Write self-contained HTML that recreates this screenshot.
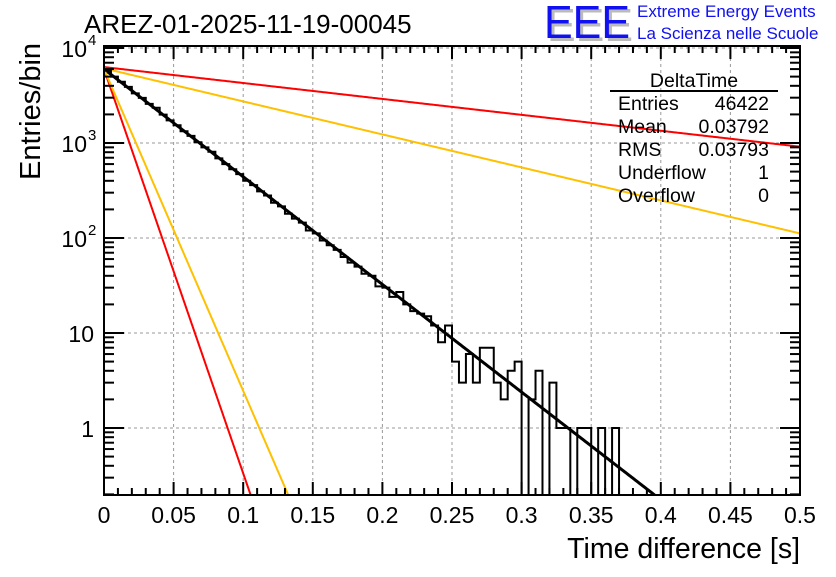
<!DOCTYPE html>
<html><head><meta charset="utf-8"><style>
body{margin:0;background:#fff;}
svg text{font-family:"Liberation Sans",sans-serif;}
</style></head><body>
<svg id="c" width="836" height="572" xmlns="http://www.w3.org/2000/svg">
<rect width="836" height="572" fill="#fff"/>
<text x="84" y="33" font-size="26">AREZ-01-2025-11-19-00045</text>
<g>
<text x="547" y="41" font-size="46" fill="#bbb" textLength="86" lengthAdjust="spacingAndGlyphs">EEE</text>
<text x="544" y="38" font-size="46" fill="#1010f0" textLength="86" lengthAdjust="spacingAndGlyphs">EEE</text>
<text x="637" y="17" font-size="17" fill="#1010f0">Extreme Energy Events</text>
<text x="637" y="39" font-size="17" fill="#1010f0">La Scienza nelle Scuole</text>
</g>
<g id="grid"></g>
<g id="fits"></g>
<g id="hist"></g>
<g id="axes"></g>
<g font-size="19.5">
<text x="694" y="87" text-anchor="middle">DeltaTime</text>
<line x1="610" y1="91" x2="778" y2="91" stroke="#000" stroke-width="2"/>
<text x="618" y="110">Entries</text><text x="769" y="110" text-anchor="end">46422</text>
<text x="618" y="133">Mean</text><text x="769" y="133" text-anchor="end">0.03792</text>
<text x="618" y="156">RMS</text><text x="769" y="156" text-anchor="end">0.03793</text>
<text x="618" y="179">Underflow</text><text x="769" y="179" text-anchor="end">1</text>
<text x="618" y="202">Overflow</text><text x="769" y="202" text-anchor="end">0</text>
</g>
<text x="800" y="558" font-size="28.5" text-anchor="end">Time difference [s]</text>
<text transform="translate(40,180) rotate(-90)" font-size="29" text-anchor="start">Entries/bin</text>
</svg>
<script>
const binWidth = 0.005;
const counts = [5760,5000,4420,3900,3330,2990,2580,2350,1990,1730,1540,1330,1190,1020,900,810,690,600,530,470,400,360,310,280,235,215,180,160,145,120,112,94,84,75,63,55,50,42,40,31,30,24,27,20,17,16,15,12,8,12,5,3,6,3,7,7,3,2,4,5,0,2,4,0,3,1,1,0,1,1,0,1,0,1,0,0,0,0,0,0];
const fitAmp = [6000,6000,6000,6300,6100];
const fitSlope = [26.1,98,78,3.86,8.0];
const fitColor = ['#000','#f00','#ffc000','#f00','#ffc000'];
const xTicks = [0,0.05,0.1,0.15,0.2,0.25,0.3,0.35,0.4,0.45,0.5];
const xTickLabels = ['0','0.05','0.1','0.15','0.2','0.25','0.3','0.35','0.4','0.45','0.5'];
const yDecades = [1,10,100,1000,10000];

const L=104,R=800,T=46,B=495, yMin=0.197, yMax=10500;
const X=v=>L+(v-0)/(0.5)*(R-L);
const Y=v=>{v=Math.max(v,yMin);return B-(Math.log10(v)-Math.log10(yMin))/(Math.log10(yMax)-Math.log10(yMin))*(B-T);};
const NS='http://www.w3.org/2000/svg';
function mk(p,tag,at){const e=document.createElementNS(NS,tag);for(const k in at)e.setAttribute(k,at[k]);document.getElementById(p).appendChild(e);return e;}

xTicks.forEach(t=>{if(t>0&&t<0.5){const g=mk('grid','line',{x1:X(t),x2:X(t),y1:T,y2:B,stroke:'#999','stroke-dasharray':'3,3','stroke-width':1});

}});
yDecades.forEach(d=>{const g=mk('grid','line',{x1:L,x2:R,y1:Y(d),y2:Y(d),stroke:'#999','stroke-dasharray':'3,3','stroke-width':1});

});

let d='M'+X(0)+','+B;
counts.forEach((c,i)=>{const y=Y(c);d+=' L'+X(i*binWidth)+','+y+' L'+X((i+1)*binWidth)+','+y;});
d+=' L'+X(counts.length*binWidth)+','+B;
const h=mk('hist','path',{d:d,fill:'none',stroke:'#000','stroke-width':2});



fitAmp.forEach((a,k)=>{let pts=[];for(let i=0;i<=500;i++){const x=i*0.001;const v=a*Math.exp(-fitSlope[k]*x);if(v<yMin){pts.push(X(Math.log(a/yMin)/fitSlope[k])+','+B);break;}pts.push(X(x)+','+Y(v));}
const p=mk('fits','polyline',{points:pts.join(' '),fill:'none',stroke:fitColor[k],'stroke-width':k==0?3:2});

});

const fr=mk('axes','rect',{x:L,y:T,width:R-L,height:B-T,fill:'none',stroke:'#000','stroke-width':2});


for(let i=0;i<=50;i++){const x=X(i*0.01);const len=(i%5==0)?13:7;
mk('axes','line',{x1:x,x2:x,y1:B,y2:B-len,stroke:'#000','stroke-width':2});
mk('axes','line',{x1:x,x2:x,y1:T,y2:T+len,stroke:'#000','stroke-width':2});}
xTicks.forEach((t,i)=>{const tx=mk('axes','text',{x:X(t),y:523,'font-size':23,'text-anchor':'middle'});tx.textContent=xTickLabels[i];

});
for(let e=-1;e<=4;e++){for(let m=1;m<=9;m++){const v=m*Math.pow(10,e);if(v<yMin||v>yMax)continue;const y=Y(v);const len=m==1?20:10;
mk('axes','line',{x1:L,x2:L+len,y1:y,y2:y,stroke:'#000','stroke-width':2});
mk('axes','line',{x1:R,x2:R-len,y1:y,y2:y,stroke:'#000','stroke-width':2});}}
const yl=[['1',''],['10',''],['10','2'],['10','3'],['10','4']];
yDecades.forEach((dd,i)=>{const tx=mk('axes','text',{x:i<2?94:87,y:Y(dd)+9,'font-size':23,'text-anchor':'end'});tx.textContent=yl[i][0];


if(yl[i][1]){const s=mk('axes','text',{x:88,y:Y(dd)-3,'font-size':15});s.textContent=yl[i][1];

}});
</script>
</body></html>
